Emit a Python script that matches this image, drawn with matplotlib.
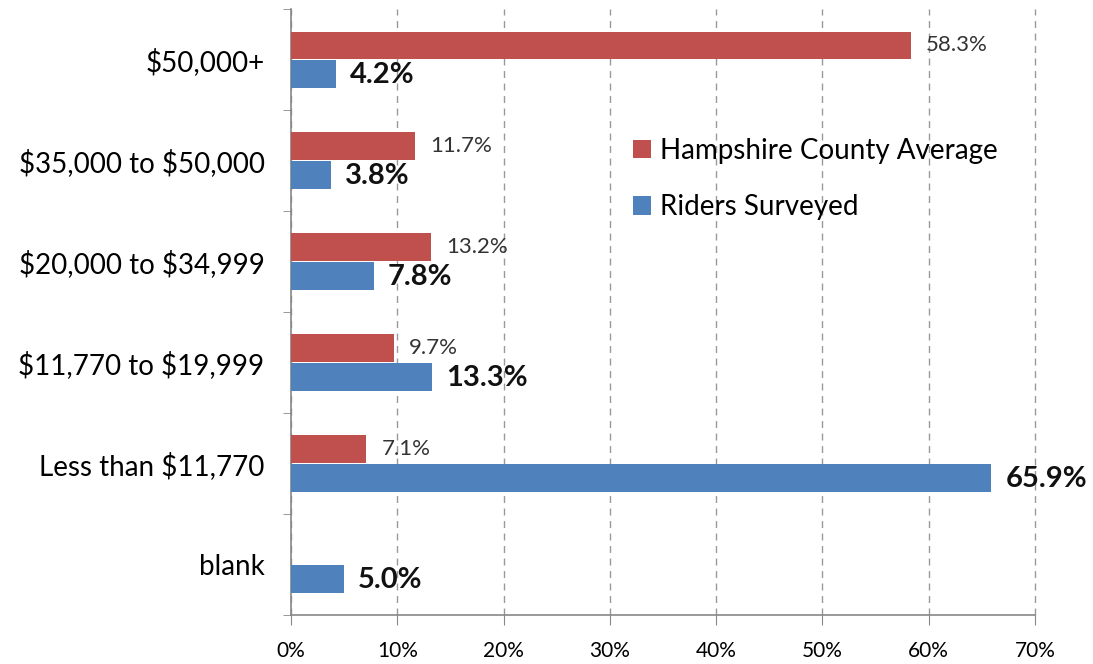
import numpy as np
import matplotlib.pyplot as plt

plt.rcParams['font.family'] = ['Lato', 'DejaVu Sans']

categories = ['\\$50,000+', '\\$35,000 to \\$50,000', '\\$20,000 to \\$34,999',
              '\\$11,770 to \\$19,999', 'Less than \\$11,770', 'blank']
county = [58.3, 11.7, 13.2, 9.7, 7.1, None]
riders = [4.2, 3.8, 7.8, 13.3, 65.9, 5.0]

red = '#C0504D'
blue = '#4F81BD'

fig = plt.figure(figsize=(10.93, 6.64), dpi=100)
ax = fig.add_axes([0.2662, 0.0738, 0.6807, 0.9126])

y = np.arange(len(categories))
h = 0.275
off = 0.14

county_vals = [v if v is not None else 0 for v in county]
ax.barh(y - off, county_vals, height=h, color=red, label='Hampshire County Average', zorder=3)
ax.barh(y + off, riders, height=h, color=blue, label='Riders Surveyed', zorder=3)

for i, v in enumerate(county):
    if v is None:
        continue
    ax.annotate(f'{v:.1f}%', (v, i - off), xytext=(11, 0), textcoords='offset points',
                va='center', ha='left', fontsize=16, color='#333333', zorder=4)
for i, v in enumerate(riders):
    ax.annotate(f'{v:.1f}%', (v, i + off), xytext=(10, -1), textcoords='offset points',
                va='center', ha='left', fontsize=21, fontweight='bold', color='#111111', zorder=4)

ax.set_xlim(0, 70)
ax.set_ylim(len(categories) - 0.5, -0.5)
ax.set_xticks(np.arange(0, 71, 10))
ax.set_xticklabels([f'{t}%' for t in range(0, 71, 10)], fontsize=15)
ax.set_yticks(y)
ax.set_yticklabels(categories, fontsize=20)
ax.set_yticks(np.arange(-0.5, len(categories), 1), minor=True)
ax.tick_params(axis='y', which='major', length=0, pad=19)
ax.tick_params(axis='y', which='minor', length=6, color='#888888')
ax.tick_params(axis='x', length=7, color='#888888', pad=12)

ax.grid(axis='x', linestyle=(0, (5, 4)), color='#999999', linewidth=1, zorder=0)
for gl in ax.get_xgridlines():
    gl.set_clip_on(False)
for s in ['top', 'right']:
    ax.spines[s].set_visible(False)
for s in ['left', 'bottom']:
    ax.spines[s].set_color('#888888')
    ax.spines[s].set_linewidth(1.2)

ax.legend(loc='upper left', bbox_to_anchor=(0.556, 0.83), bbox_transform=fig.transFigure,
          frameon=False, fontsize=20, handlelength=0.65, handleheight=0.65,
          handletextpad=0.35, labelspacing=1.1)

fig.savefig('out.png', dpi=100)
